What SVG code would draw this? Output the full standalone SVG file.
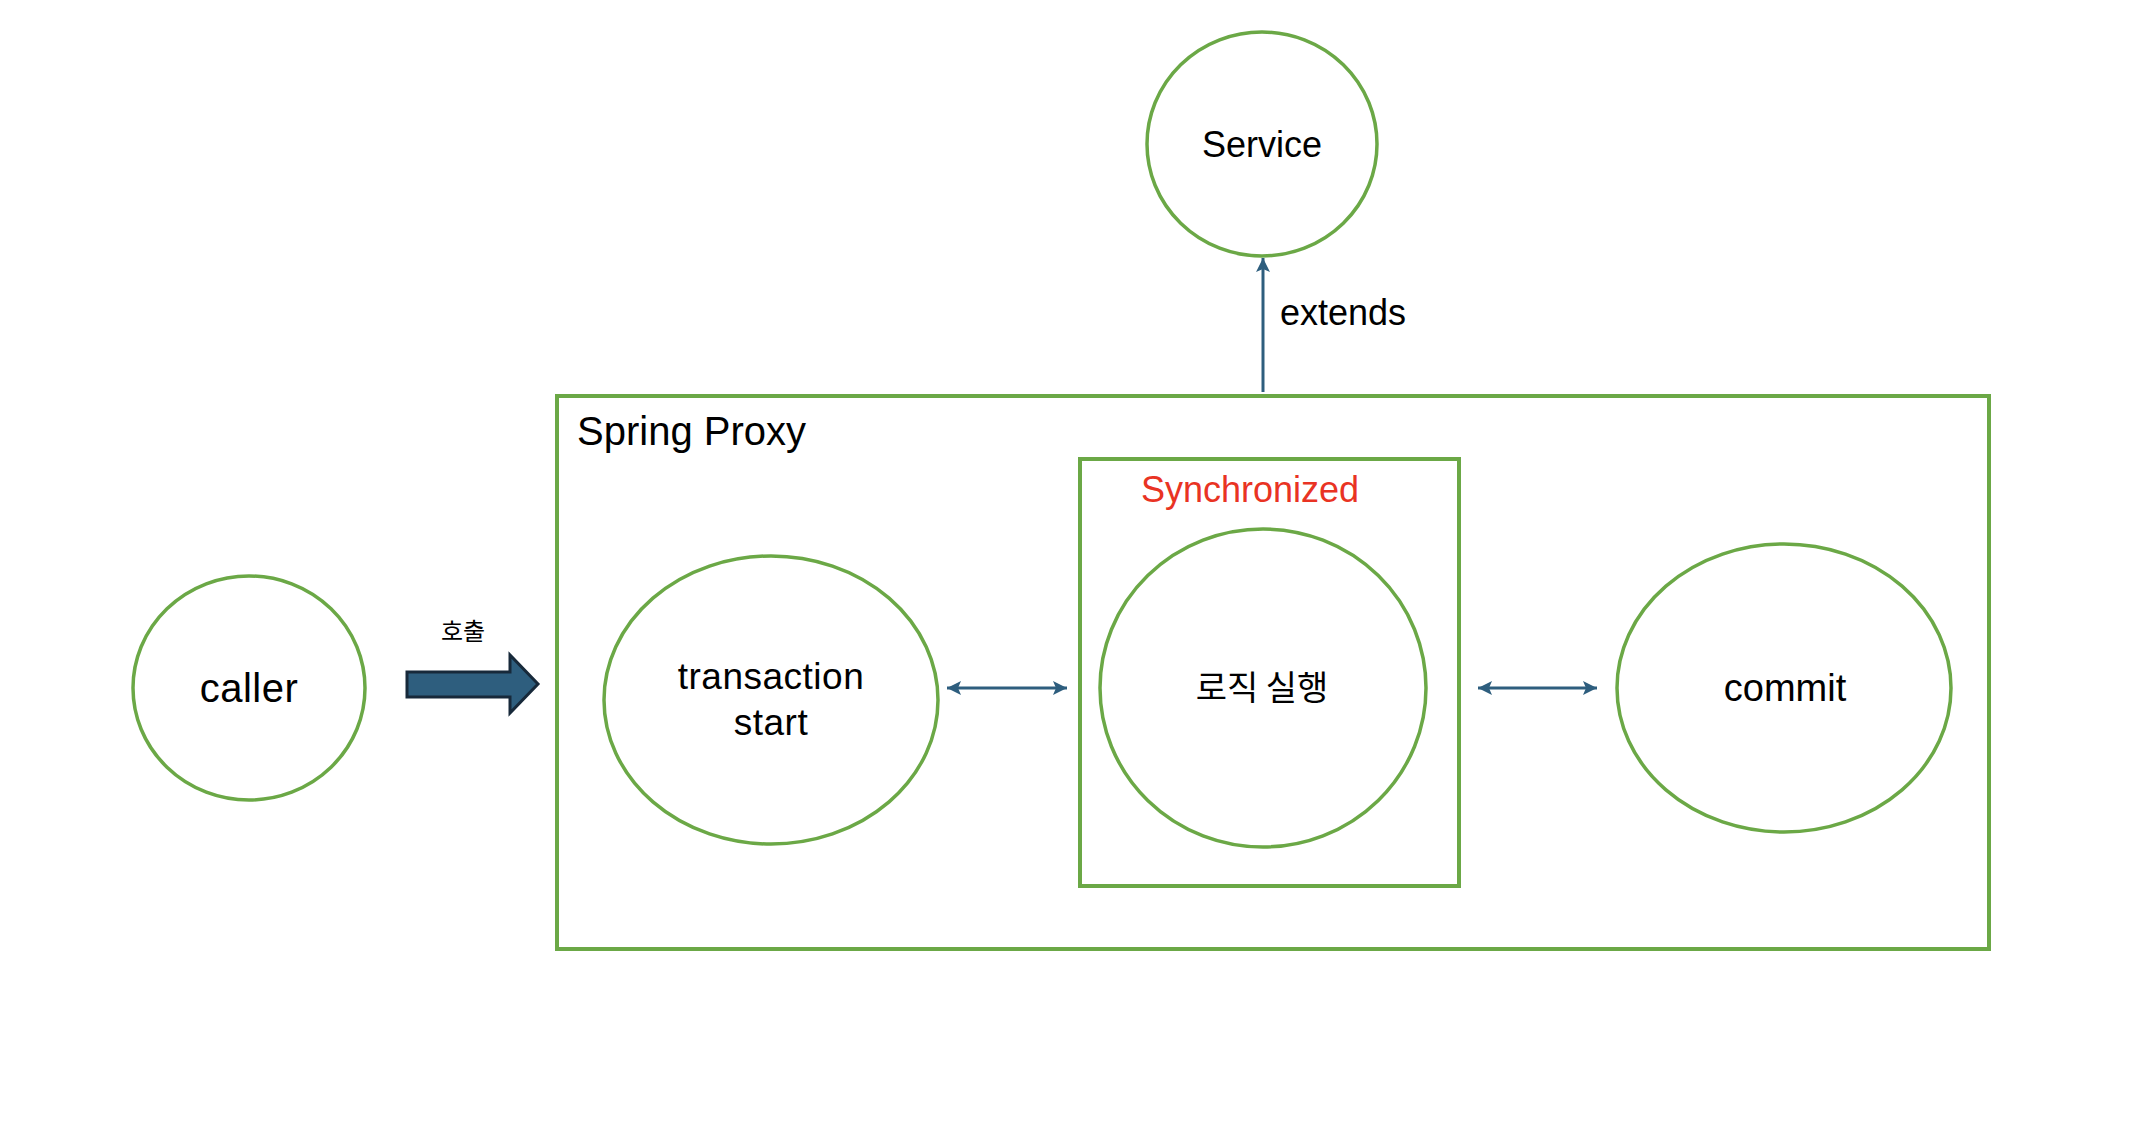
<svg xmlns="http://www.w3.org/2000/svg" width="2154" height="1136" viewBox="0 0 2154 1136">
  <style>
    .node { fill: #FFFFFF; stroke: #6BA846; stroke-width: 3.5; }
    .box { fill: none; stroke: #6BA846; stroke-width: 4; }
    .lbl { font-family: "Liberation Sans", Arial, "Noto Sans CJK KR", sans-serif; fill: #000000; text-anchor: middle; }
    .kr { font-family: "Noto Sans CJK KR", "Liberation Sans", sans-serif; fill: #000000; text-anchor: middle; }
    .conn { stroke: #2E5E7E; stroke-width: 3; fill: none; }
  </style>
  <defs>
    <marker id="ah" markerUnits="userSpaceOnUse" markerWidth="16" markerHeight="16" viewBox="0 0 16 16" refX="15" refY="8" orient="auto-start-reverse">
      <path d="M1,1 L15,8 L1,15 L4,8 Z" fill="#2E5E7E"/>
    </marker>
  </defs>
  <rect width="2154" height="1136" fill="#FFFFFF"/>

  <g id="spring-proxy">
    <rect class="box" x="557" y="396" width="1432" height="553"/>
    <text class="lbl" x="577" y="445" font-size="40" style="text-anchor:start">Spring Proxy</text>
  </g>

  <g id="synchronized">
    <rect class="box" x="1080" y="459" width="379" height="427"/>
    <text x="1141" y="502" font-size="36" font-family="Liberation Sans, Arial, sans-serif" fill="#E93323">Synchronized</text>
  </g>

  <g id="service">
    <ellipse class="node" cx="1262" cy="144" rx="115" ry="112"/>
    <text class="lbl" x="1262" y="157" font-size="36">Service</text>
  </g>

  <g id="caller">
    <ellipse class="node" cx="249" cy="688" rx="116" ry="112"/>
    <text class="lbl" x="249" y="702" font-size="40" letter-spacing="0.5">caller</text>
  </g>

  <g id="transaction-start">
    <ellipse class="node" cx="771" cy="700" rx="167" ry="144"/>
    <text class="lbl" x="771" y="689" font-size="37" letter-spacing="0.5">transaction</text>
    <text class="lbl" x="771" y="735" font-size="37" letter-spacing="0.5">start</text>
  </g>

  <g id="logic">
    <ellipse class="node" cx="1263" cy="688" rx="163" ry="159"/>
    <text class="kr" x="1262" y="700" font-size="34">로직 실행</text>
  </g>

  <g id="commit">
    <ellipse class="node" cx="1784" cy="688" rx="167" ry="144"/>
    <text class="lbl" x="1785" y="701" font-size="38">commit</text>
  </g>

  <g id="connectors">
    <line class="conn" x1="1263" y1="392" x2="1263" y2="258" marker-end="url(#ah)"/>
    <text class="lbl" x="1280" y="325" font-size="36" style="text-anchor:start">extends</text>
    <line class="conn" x1="947" y1="688" x2="1067" y2="688" marker-start="url(#ah)" marker-end="url(#ah)"/>
    <line class="conn" x1="1478" y1="688" x2="1597" y2="688" marker-start="url(#ah)" marker-end="url(#ah)"/>
    <polygon points="407,672 510,672 510,655 538,684 510,713 510,697 407,697" fill="#2E5E7E" stroke="#17293A" stroke-width="3" stroke-linejoin="miter"/>
    <text class="kr" x="463" y="640" font-size="24">호출</text>
  </g>
</svg>
